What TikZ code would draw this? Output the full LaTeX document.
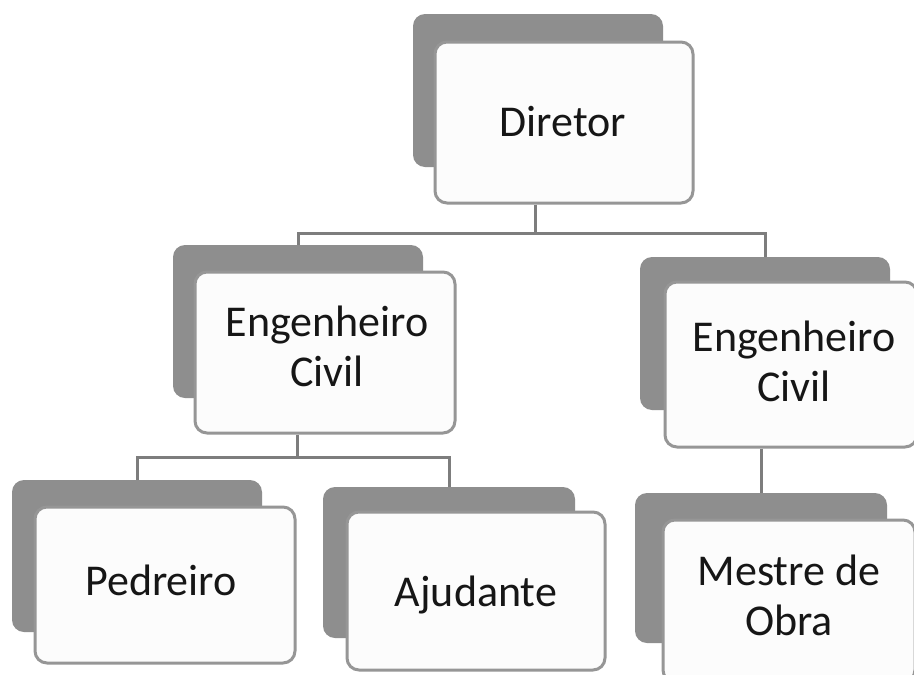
\documentclass[tikz,border=0pt]{standalone}
\usepackage{fontspec}
\setmainfont{Carlito}
\definecolor{shadowgray}{RGB}{142,142,142}
\definecolor{framegray}{RGB}{150,150,150}
\definecolor{linegray}{RGB}{125,125,125}
\definecolor{boxfill}{RGB}{252,252,252}
\definecolor{txt}{RGB}{22,22,22}
\tikzset{
  backcard/.style={fill=shadowgray, draw=none, rounded corners=12pt, inner sep=0pt},
  frontcard/.style={fill=boxfill, draw=framegray, line width=3pt, rounded corners=12pt,
     inner sep=0pt},
  cardtext/.style={inner sep=0pt, align=center, text=txt, font=\fontsize{44}{50}\selectfont},
  conn/.style={draw=linegray, line width=3pt}
}
\begin{document}
\begin{tikzpicture}[x=1pt,y=-1pt]
\useasboundingbox (0,0) rectangle (914,675);
\clip (0,0) rectangle (914,675);
\fill[white] (0,0) rectangle (914,675);
% back cards
\node[backcard, minimum width=250pt, minimum height=153pt] (dirsh) at (538,90.5) {};
\node[backcard, minimum width=250pt, minimum height=153pt] (eclsh) at (298,321.5) {};
\node[backcard, minimum width=250pt, minimum height=153pt] (ecrsh) at (765,333.5) {};
\node[backcard, minimum width=250pt, minimum height=152pt] (pedsh) at (137,556) {};
\node[backcard, minimum width=252pt, minimum height=151pt] (ajush) at (449,562.5) {};
\node[backcard, minimum width=252pt, minimum height=150pt] (mosh) at (761,568) {};
% front cards
\node[frontcard, minimum width=258pt, minimum height=161pt] (dir) at (564,122.5) {};
\node[frontcard, minimum width=260pt, minimum height=161pt] (ecl) at (325,352.5) {};
\node[frontcard, minimum width=252pt, minimum height=165pt] (ecr) at (791,364.5) {};
\node[frontcard, minimum width=260pt, minimum height=156pt] (ped) at (165,585) {};
\node[frontcard, minimum width=258pt, minimum height=158pt] (aju) at (476,591) {};
\node[frontcard, minimum width=252pt, minimum height=162pt] (mo) at (789,601) {};
% texts
\node[cardtext] (dirt) at ([xshift=-1pt,yshift=1pt]dir.center) {Diretor};
\node[cardtext] (eclt) at ([xshift=2pt,yshift=6pt]ecl.center) {Engenheiro\\Civil};
\node[cardtext] (ecrt) at ([xshift=3pt,yshift=3pt]ecr.center) {Engenheiro\\Civil};
\node[cardtext] (pedt) at ([xshift=-4pt,yshift=5pt]ped.center) {Pedreiro};
\node[cardtext] (ajut) at ([yshift=-4pt]aju.center) {Ajudante};
\node[cardtext] (mot) at ([yshift=6pt]mo.center) {Mestre de\\Obra};
% connectors
\draw[conn] ([xshift=-29pt]dir.south) -- ++(0,29) coordinate (b1);
\draw[conn] (b1) -| (eclsh.north);
\draw[conn] (b1) -| (ecrsh.north);
\draw[conn] ([xshift=-28pt]ecl.south) -- ++(0,23) coordinate (b2);
\draw[conn] (b2) -| (pedsh.north);
\draw[conn] (b2) -| (ajush.north);
\draw[conn] (ecr.south -| mosh.north) -- (mosh.north);
\end{tikzpicture}
\end{document}
